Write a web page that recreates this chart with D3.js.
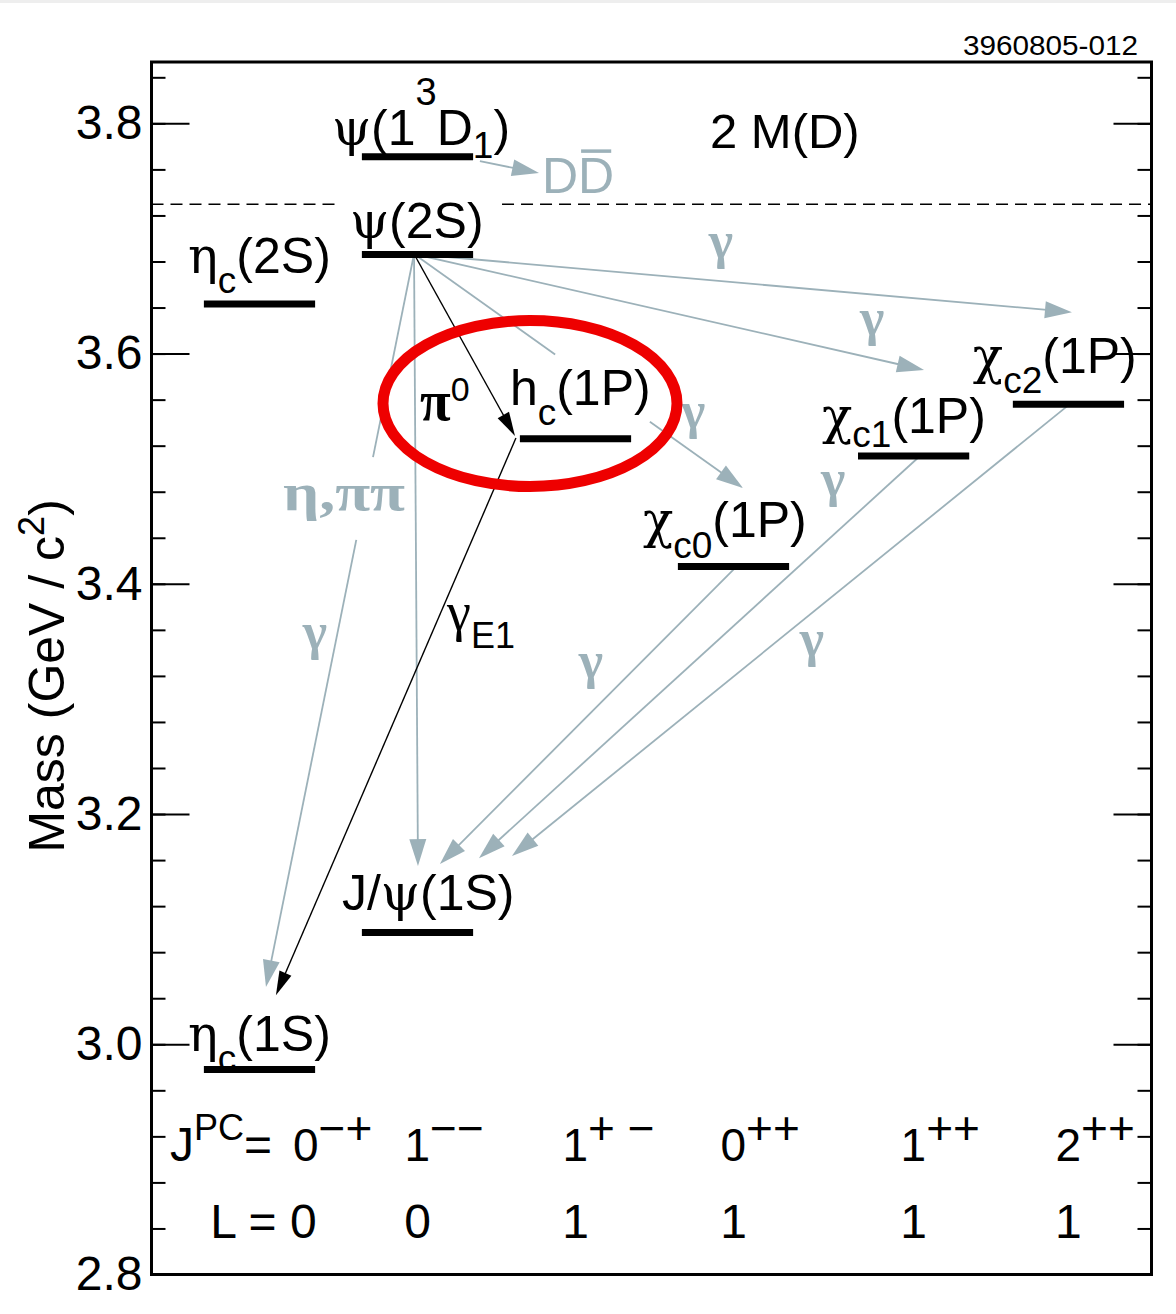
<!DOCTYPE html>
<html>
<head>
<meta charset="utf-8">
<script src="https://cdn.jsdelivr.net/npm/d3@7"></script>
<style>
  body { margin: 0; background: #fff; }
  svg { display: block; }
</style>
</head>
<body>
<div id="chart"></div>
<script>
// Charmonium levels (mass in GeV/c^2), column = J^PC slot
const stateKeys    = ["etac1S", "jpsi", "etac2S", "psi2S", "psi3770", "hc", "chic0", "chic1", "chic2"];
const stateLabels  = ["η_{c}(1S)", "J/ψ(1S)", "η_{c}(2S)", "ψ(2S)", "ψ(1^{3}D_{1})", "h_{c}(1P)", "χ_{c0}(1P)", "χ_{c1}(1P)", "χ_{c2}(1P)"];
const stateMasses  = [2.978, 3.097, 3.643, 3.686, 3.771, 3.526, 3.415, 3.511, 3.556];
const stateColumns = [0, 1, 0, 1, 1, 2, 3, 4, 5];

// J^PC columns along the bottom
const jpcDigits   = ["0", "1", "1", "0", "1", "2"];
const jpcSigns    = ["−+", "−−", "+ −", "++", "++", "++"];
const orbitalL    = ["0", "0", "1", "1", "1", "1"];
const columnSlots = [0, 1, 2, 3, 4.14, 5.12];

const majorTicks = [2.8, 3.0, 3.2, 3.4, 3.6, 3.8];
const thresholdMass = 3.7297; // 2 M(D)

// Transitions: start / end points as [slot, mass]
const transFrom  = ["psi2S", "psi2S", "psi2S", "psi2S", "psi2S", "psi2S", "hc", "chic0", "chic1", "chic2", "psi3770"];
const transTo    = ["chic2", "chic1", "chic0", "jpsi", "etac1S", "hc", "etac1S", "jpsi", "jpsi", "jpsi", "DDbar"];
const transBlack = [false, false, false, false, false, true, true, false, false, false, false];
const startSlot  = [0.978, 0.978, 0.978, 0.978, 0.978, 0.978, 1.623, 3.028, 4.18, 5.136, 1.395];
const startMass  = [3.6865, 3.6865, 3.6865, 3.6865, 3.6865, 3.6865, 3.5266, 3.4163, 3.511, 3.557, 3.7672];
const endSlot    = [5.142, 4.206, 3.06, 1.003, 0.041, 1.617, 0.104, 1.142, 1.389, 1.598, 1.769];
const endMass    = [3.636, 3.5857, 3.4832, 3.1548, 3.0497, 3.5284, 3.0426, 3.1565, 3.1617, 3.1635, 3.7568];
// parts of a line hidden behind a label (fractions along the line)
const transGaps  = [null, null, [0.429, 0.717], null, [0.277, 0.39], null, null, null, null, null, null];

// transition labels
const gammaSlot = [2.921, 3.877, 2.744, 3.630, 2.098, 3.497, 0.351];
const gammaMass = [3.6828, 3.6159, 3.5351, 3.4762, 3.3181, 3.3372, 3.3433];

const sans = "'Liberation Sans', Arial, Helvetica, sans-serif";
const serif = "'DejaVu Serif', 'Liberation Serif', serif";
const times = "'Liberation Serif', 'Times New Roman', serif";
const gray = "#9cb1b9";

const svgWidth = 1176, svgHeight = 1314;
const frame = { left: 151.5, right: 1151.5, top: 62, bottom: 1274.5 };

const svg = d3.select("#chart").append("svg")
    .attr("width", svgWidth)
    .attr("height", svgHeight);

svg.append("rect").attr("width", svgWidth).attr("height", svgHeight).attr("fill", "#fff");
svg.append("rect").attr("width", svgWidth).attr("height", 3).attr("fill", "#eeeeee");

// scales
const y = d3.scaleLinear().domain([2.8, 3.8533]).range([frame.bottom, frame.top]);
const x = d3.scaleLinear().domain([0, 1]).range([259.5, 417.5]);
const halfBar = 0.352;

// rich text: "_{..}" subscript, "^{..}" superscript, greek letters in serif
function parseLabel(str) {
    const parts = [];
    const re = /([_^])\{([^}]*)\}|([^_^]+)/g;
    let m;
    while ((m = re.exec(str))) {
        if (m[1]) parts.push({ text: m[2], mode: m[1] === "_" ? "sub" : "sup" });
        else parts.push({ text: m[3], mode: "base" });
    }
    return parts;
}

function drawRich(parent, px, py, str, opt) {
    const t = parent.append("text")
        .attr("x", px).attr("y", py)
        .attr("font-family", sans)
        .attr("font-size", opt.size)
        .attr("fill", opt.fill || "#000");
    if (opt.anchor) t.attr("text-anchor", opt.anchor);
    let cur = 0;
    parseLabel(str).forEach(p => {
        const shift = p.mode === "sub" ? opt.subShift : p.mode === "sup" ? -opt.supShift : 0;
        const fs = p.mode === "sub" ? opt.subSize : p.mode === "sup" ? opt.supSize : opt.size;
        const runs = p.text.match(/[\u0370-\u03ff]+|[^\u0370-\u03ff]+/g);
        runs.forEach((r, i) => {
            const ts = t.append("tspan").attr("font-size", fs).text(r);
            if (i === 0) ts.attr("dy", shift - cur);
            if (/[\u0370-\u03ff]/.test(r)) {
                ts.attr("font-family", opt.greekFont || serif)
                    .attr("font-size", fs * (opt.greekScale || 1));
                if (opt.greekWeight) ts.attr("font-weight", opt.greekWeight);
            }
        });
        cur = shift;
    });
    return t;
}

// axes (ticks point inwards)
function styleAxis(g) {
    g.select(".domain").remove();
    g.selectAll("line").attr("stroke", "#000").attr("stroke-width", 2);
    g.selectAll("text").attr("font-family", sans).attr("font-size", 48).attr("fill", "#000");
}
const minorTicks = d3.range(2.8, 3.86, 0.04).map(v => +v.toFixed(2));

svg.append("g").attr("transform", `translate(${frame.left},0)`)
    .call(d3.axisLeft(y).tickValues(minorTicks).tickSizeInner(-14).tickSizeOuter(0).tickFormat(""))
    .call(styleAxis);
svg.append("g").attr("transform", `translate(${frame.left},0)`)
    .call(d3.axisLeft(y).tickValues(majorTicks).tickSizeInner(-38).tickSizeOuter(0)
        .tickPadding(9).tickFormat(d3.format(".1f")))
    .call(styleAxis);
svg.append("g").attr("transform", `translate(${frame.right},0)`)
    .call(d3.axisRight(y).tickValues(minorTicks).tickSizeInner(-14).tickSizeOuter(0).tickFormat(""))
    .call(styleAxis);
svg.append("g").attr("transform", `translate(${frame.right},0)`)
    .call(d3.axisRight(y).tickValues(majorTicks).tickSizeInner(-38).tickSizeOuter(0).tickFormat(""))
    .call(styleAxis);

// frame
svg.append("rect")
    .attr("x", frame.left).attr("y", frame.top)
    .attr("width", frame.right - frame.left).attr("height", frame.bottom - frame.top)
    .attr("fill", "none").attr("stroke", "#000").attr("stroke-width", 3);

// y axis title
drawRich(svg.append("g").attr("transform", `translate(64, ${y(3.32)}) rotate(-90)`),
    0, 0, "Mass (GeV / c^{2})", { size: 50, supSize: 36, supShift: 20, anchor: "middle" });

// plate number
svg.append("text")
    .attr("x", 963).attr("y", 55)
    .attr("font-family", sans).attr("font-size", 28)
    .attr("textLength", 175).attr("lengthAdjust", "spacingAndGlyphs")
    .text("3960805-012");

// 2 M(D) threshold
const dashSegs = [[frame.left, x(0.49)], [x(1.535), frame.right]];
svg.selectAll(".thresh").data(dashSegs).enter().append("line")
    .attr("class", "thresh")
    .attr("x1", d => d[0]).attr("x2", d => d[1])
    .attr("y1", y(thresholdMass)).attr("y2", y(thresholdMass))
    .attr("stroke", "#000").attr("stroke-width", 1.6).attr("stroke-dasharray", "12,7");
svg.append("text")
    .attr("x", x(2.851)).attr("y", y(3.7785))
    .attr("font-family", sans).attr("font-size", 49)
    .text("2 M(D)");

// transitions
const arrowGroup = svg.append("g");
function drawArrow(i) {
    const p0 = [x(startSlot[i]), y(startMass[i])];
    const p1 = [x(endSlot[i]), y(endMass[i])];
    const black = transBlack[i];
    const color = black ? "#000" : gray;
    const headLen = black ? 24 : 27, headW = black ? 13 : 17;
    const dx = p1[0] - p0[0], dy = p1[1] - p0[1], L = Math.hypot(dx, dy);
    const ux = dx / L, uy = dy / L;
    const tEnd = (L - headLen + 2) / L;
    const gap = transGaps[i];
    const segs = gap ? [[0, gap[0]], [gap[1], tEnd]] : [[0, tEnd]];
    segs.forEach(([a, b]) => {
        arrowGroup.append("line")
            .attr("x1", p0[0] + dx * a).attr("y1", p0[1] + dy * a)
            .attr("x2", p0[0] + dx * b).attr("y2", p0[1] + dy * b)
            .attr("stroke", color).attr("stroke-width", black ? 1.4 : 1.8);
    });
    const bx = p1[0] - ux * headLen, by = p1[1] - uy * headLen;
    const nx = -uy * headW / 2, ny = ux * headW / 2;
    arrowGroup.append("path")
        .attr("d", `M${p1[0]},${p1[1]}L${bx + nx},${by + ny}L${bx - nx},${by - ny}Z`)
        .attr("fill", color);
}
transFrom.forEach((d, i) => drawArrow(i));

// transition labels
svg.selectAll(".gamma").data(gammaSlot).enter().append("text")
    .attr("class", "gamma")
    .attr("x", d => x(d)).attr("y", (d, i) => y(gammaMass[i]))
    .attr("text-anchor", "middle")
    .attr("font-family", times).attr("font-weight", "bold")
    .attr("font-size", 52).attr("fill", gray)
    .text("γ");

svg.append("text")
    .attr("x", x(0.149)).attr("y", y(3.464))
    .attr("font-family", times).attr("font-weight", "bold")
    .attr("font-size", 52).attr("fill", gray)
    .attr("textLength", 122).attr("lengthAdjust", "spacingAndGlyphs")
    .text("η,ππ");

drawRich(svg, x(1.187), y(3.3598), "γ_{E1}",
    { size: 54, subSize: 36, subShift: 18, greekFont: times });

drawRich(svg, x(1.016), y(3.5422), "π^{0}",
    { size: 56, supSize: 34, supShift: 19, greekFont: times, greekWeight: "bold" });

// D Dbar
const dd = svg.append("text")
    .attr("x", x(1.788)).attr("y", y(3.7394))
    .attr("font-family", sans).attr("font-size", 50).attr("fill", gray)
    .text("DD");
const second = dd.node().getExtentOfChar(1);
svg.append("line")
    .attr("x1", second.x + 3).attr("x2", second.x + second.width - 3)
    .attr("y1", second.y + 3).attr("y2", second.y + 3)
    .attr("stroke", gray).attr("stroke-width", 3.5);

// levels
const levels = stateKeys.map((k, i) => ({
    key: k, label: stateLabels[i], mass: stateMasses[i], slot: columnSlots[stateColumns[i]]
}));

svg.selectAll(".level").data(levels).enter().append("line")
    .attr("class", "level")
    .attr("x1", d => x(d.slot - halfBar)).attr("x2", d => x(d.slot + halfBar))
    .attr("y1", d => y(d.mass)).attr("y2", d => y(d.mass))
    .attr("stroke", "#000").attr("stroke-width", 7);

// label placement relative to each level's left end: [dx, dy, subShift, supShift]
const labelLayout = {
    etac1S: [-16, -19, 20, 0], jpsi: [-20, -23, 20, 0], etac2S: [-16, -31, 20, 0],
    psi2S: [-12, -17, 20, 0], psi3770: [-30, -12, 13, 40], hc: [-10, -34, 20, 0],
    chic0: [-35, -30, 21, 0], chic1: [-36, -23, 14, 0], chic2: [-40, -31, 20, 0]
};
levels.forEach(d => {
    const [ldx, ldy, sub, sup] = labelLayout[d.key];
    drawRich(svg, x(d.slot - halfBar) + ldx, y(d.mass) + ldy, d.label,
        { size: 50, subSize: 37, subShift: sub, supSize: 38, supShift: sup });
});

// J^PC and L rows
const jpcY = frame.bottom - 114, lY = frame.bottom - 37;
drawRich(svg, 170, jpcY, "J^{PC}=", { size: 48, supSize: 36, supShift: 21 });
columnSlots.forEach((s, i) => {
    const left = i === 0 ? 293 : x(s) - 13;
    drawRich(svg, left, jpcY, jpcDigits[i] + "^{" + jpcSigns[i] + "}",
        { size: 46, supSize: 46, supShift: 17 });
    svg.append("text")
        .attr("x", x(s) + (i === 0 ? 4 : 0)).attr("y", lY)
        .attr("text-anchor", "middle")
        .attr("font-family", sans).attr("font-size", 48)
        .text(i === 0 ? "L = " + orbitalL[i] : orbitalL[i]);
});

// highlight around h_c(1P)
svg.append("ellipse")
    .attr("cx", x(1.712)).attr("cy", y(3.5566))
    .attr("rx", 147).attr("ry", 83)
    .attr("fill", "none").attr("stroke", "#ee0000").attr("stroke-width", 11);
</script>
</body>
</html>
